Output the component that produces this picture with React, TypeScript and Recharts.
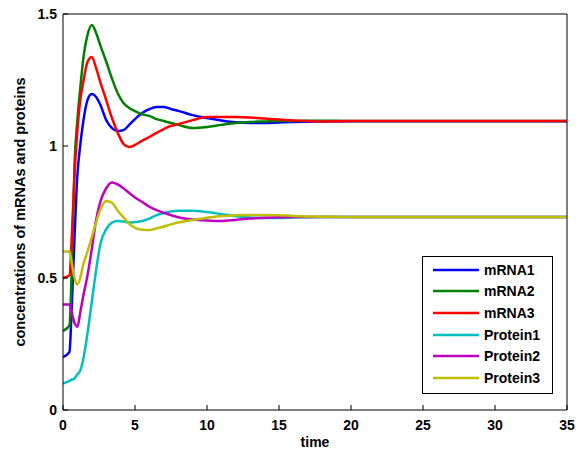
import React from 'react';
import { LineChart, Line, XAxis, YAxis } from 'recharts';

const time = [0, 0.45, 0.6, 0.8, 1.0, 1.2, 1.4, 1.7, 2.0, 2.3, 2.6, 3.0, 3.4, 3.8, 4.2, 4.6, 5.0, 5.5, 6.0, 6.5, 7.0, 7.5, 8.0, 9, 10, 11, 12, 13, 14, 15, 16, 18, 20, 25, 30, 35];

const mRNA1 = [0.2, 0.22, 0.38, 0.655, 0.89, 1.004, 1.09, 1.174, 1.197, 1.186, 1.155, 1.098, 1.068, 1.057, 1.06, 1.08, 1.102, 1.125, 1.14, 1.148, 1.148, 1.14, 1.133, 1.117, 1.106, 1.097, 1.09, 1.087, 1.087, 1.089, 1.091, 1.093, 1.094, 1.094, 1.094, 1.094];
const mRNA2 = [0.3, 0.32, 0.52, 0.93, 1.1, 1.22, 1.326, 1.42, 1.458, 1.428, 1.38, 1.32, 1.255, 1.2, 1.163, 1.144, 1.132, 1.12, 1.114, 1.102, 1.095, 1.087, 1.08, 1.068, 1.072, 1.08, 1.087, 1.091, 1.093, 1.095, 1.095, 1.096, 1.095, 1.095, 1.095, 1.095];
const mRNA3 = [0.5, 0.51, 0.644, 0.89, 1.06, 1.174, 1.24, 1.318, 1.337, 1.295, 1.24, 1.174, 1.106, 1.05, 1.008, 0.996, 1.004, 1.02, 1.034, 1.05, 1.064, 1.076, 1.083, 1.098, 1.11, 1.11, 1.11, 1.108, 1.104, 1.1, 1.097, 1.093, 1.095, 1.095, 1.095, 1.095];
const protein1 = [0.1, 0.11, 0.115, 0.12, 0.135, 0.15, 0.19, 0.29, 0.41, 0.53, 0.63, 0.685, 0.71, 0.716, 0.714, 0.71, 0.712, 0.716, 0.725, 0.738, 0.746, 0.752, 0.755, 0.755, 0.75, 0.742, 0.734, 0.729, 0.727, 0.727, 0.729, 0.731, 0.731, 0.731, 0.731, 0.731];
const protein2 = [0.4, 0.4, 0.37, 0.33, 0.315, 0.37, 0.43, 0.51, 0.61, 0.72, 0.79, 0.84, 0.862, 0.855, 0.84, 0.822, 0.805, 0.788, 0.77, 0.757, 0.747, 0.738, 0.73, 0.722, 0.718, 0.716, 0.72, 0.725, 0.728, 0.73, 0.731, 0.731, 0.731, 0.731, 0.731, 0.731];
const protein3 = [0.6, 0.6, 0.56, 0.5, 0.475, 0.5, 0.55, 0.6, 0.655, 0.71, 0.76, 0.792, 0.785, 0.755, 0.73, 0.705, 0.69, 0.683, 0.682, 0.688, 0.695, 0.703, 0.71, 0.72, 0.728, 0.735, 0.738, 0.739, 0.739, 0.738, 0.735, 0.732, 0.731, 0.731, 0.731, 0.731];

const xTicks = [0, 5, 10, 15, 20, 25, 30, 35];
const yTicks = [0, 0.5, 1, 1.5];

const seriesNames = ['mRNA1', 'mRNA2', 'mRNA3', 'Protein1', 'Protein2', 'Protein3'];
const seriesColors = ['#0000FF', '#008000', '#FF0000', '#00BFBF', '#BF00BF', '#BFBF00'];
const seriesValues = [mRNA1, mRNA2, mRNA3, protein1, protein2, protein3];

const data = time.map((t, i) => {
  const row: Record<string, number> = { t };
  seriesNames.forEach((n, k) => {
    row[n] = seriesValues[k][i];
  });
  return row;
});

const FONT = '"Liberation Sans", Arial, sans-serif';
const tickStyle = { fontFamily: FONT, fontWeight: 700, fontSize: 14, fill: '#000' };

const LegendBox = () => (
  <div
    style={{
      position: 'absolute',
      left: 422,
      top: 256,
      width: 129,
      height: 134,
      border: '1px solid #000',
      background: '#fff',
      boxSizing: 'content-box',
      paddingTop: 2,
    }}
  >
    {seriesNames.map((n, k) => (
      <div key={n} style={{ height: 21.6, display: 'flex', alignItems: 'center' }}>
        <svg width={61} height={6} style={{ display: 'block' }}>
          <line x1={10} x2={56} y1={3} y2={3} stroke={seriesColors[k]} strokeWidth={2.5} />
        </svg>
        <span style={{ fontFamily: FONT, fontWeight: 700, fontSize: 14, color: '#000', lineHeight: '14px' }}>{n}</span>
      </div>
    ))}
  </div>
);

export default function App() {
  return (
    <div style={{ position: 'absolute', left: 0, top: 0, width: 583, height: 455, background: '#fff' }}>
      <LineChart width={583} height={455} data={data} margin={{ top: 13, right: 15, bottom: 0, left: 0 }}>
        <XAxis
          dataKey="t"
          type="number"
          domain={[0, 35]}
          ticks={xTicks}
          height={45}
          tickSize={-5}
          tickMargin={15}
          tick={tickStyle}
          axisLine={{ stroke: '#000', strokeWidth: 1 }}
          tickLine={{ stroke: '#000' }}
          allowDataOverflow
          label={{ value: 'time', position: 'center', dy: 10, style: { fontFamily: FONT, fontWeight: 700, fontSize: 14, fill: '#000' } }}
        />
        <XAxis
          xAxisId="top"
          orientation="top"
          dataKey="t"
          type="number"
          domain={[0, 35]}
          ticks={xTicks}
          height={1}
          tickSize={-5}
          tick={false}
          axisLine={{ stroke: '#000', strokeWidth: 1 }}
          tickLine={{ stroke: '#000' }}
        />
        <YAxis
          type="number"
          domain={[0, 1.5]}
          ticks={yTicks}
          width={63}
          tickSize={-5}
          tickMargin={11}
          tick={tickStyle}
          axisLine={{ stroke: '#000', strokeWidth: 1 }}
          tickLine={{ stroke: '#000' }}
          allowDataOverflow
          label={{
            value: 'concentrations of mRNAs and proteins',
            angle: -90,
            position: 'center',
            dx: -12,
            style: { fontFamily: FONT, fontWeight: 700, fontSize: 14.5, fill: '#000', textAnchor: 'middle' },
          }}
        />
        <YAxis
          yAxisId="right"
          orientation="right"
          type="number"
          domain={[0, 1.5]}
          ticks={yTicks}
          width={1}
          tickSize={-5}
          tick={false}
          axisLine={{ stroke: '#000', strokeWidth: 1 }}
          tickLine={{ stroke: '#000' }}
        />
        {seriesNames.map((n, k) => (
          <Line
            key={n}
            dataKey={n}
            type="monotone"
            stroke={seriesColors[k]}
            strokeWidth={2.5}
            dot={false}
            activeDot={false}
            isAnimationActive={false}
          />
        ))}
      </LineChart>
      <LegendBox />
    </div>
  );
}
